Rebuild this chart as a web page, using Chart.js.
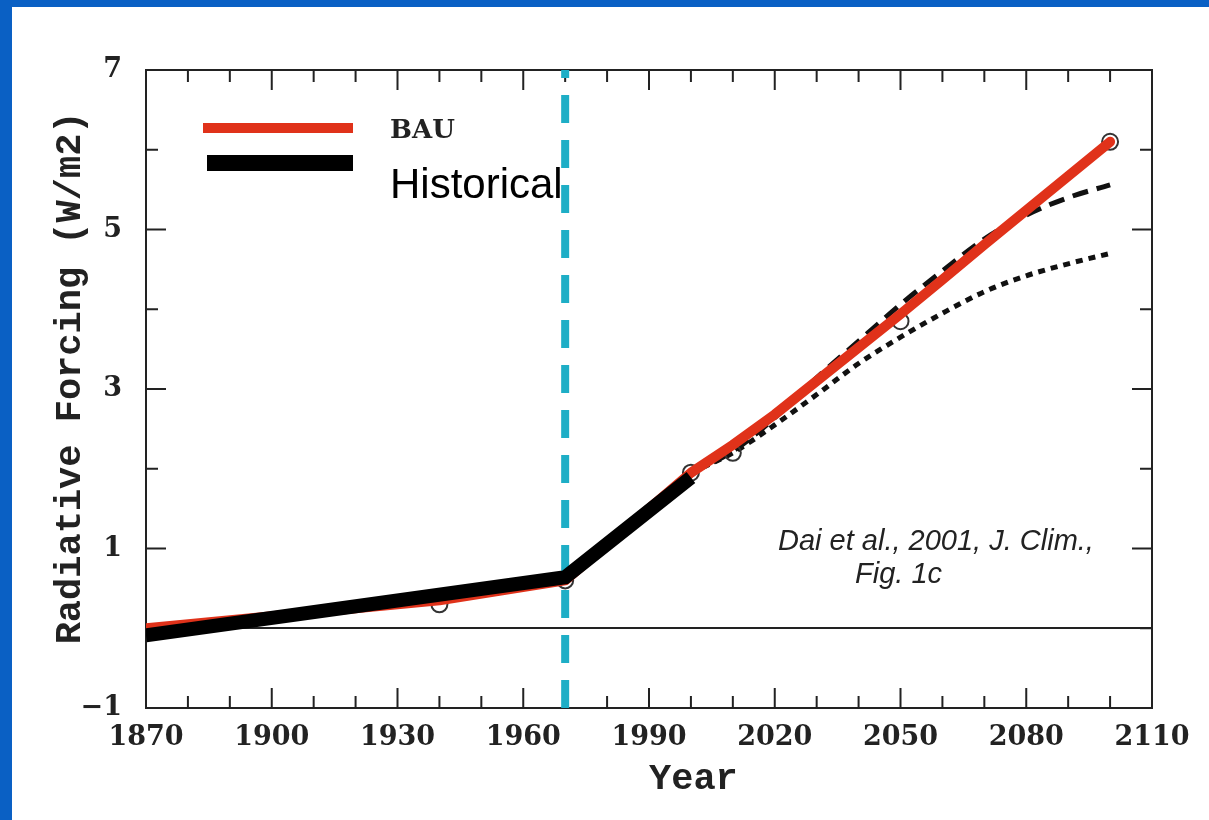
<!DOCTYPE html>
<html>
<head>
<meta charset="utf-8">
<script src="https://cdn.jsdelivr.net/npm/chart.js@4"></script>
<style>
  html, body { margin: 0; padding: 0; background: #0a60c4; }
  body { width: 1209px; height: 820px; position: relative; overflow: hidden; }
  #chart { position: absolute; left: 12px; top: 7px; background: #fff; }
</style>
</head>
<body>
<canvas id="chart" width="1197" height="813"></canvas>
<script>
// BAU scenario (red) and historical forcing (black), W/m2
var bauYears = [1870, 1940, 1970, 2000, 2010, 2020, 2030, 2040, 2050, 2060, 2070, 2080, 2090, 2100];
var bauValues = [0.0, 0.35, 0.6, 1.95, 2.3, 2.68, 3.1, 3.52, 3.94, 4.37, 4.81, 5.24, 5.67, 6.1];
var histYears = [1870, 1970, 2000];
var histValues = [-0.09, 0.64, 1.89];

// the two stabilisation curves of the original figure
var scenYears = [2000, 2010, 2020, 2030, 2040, 2050, 2060, 2070, 2080, 2090, 2100];
var dashedValues = [1.95, 2.22, 2.64, 3.14, 3.6, 4.06, 4.48, 4.88, 5.18, 5.4, 5.56];
var dottedValues = [1.95, 2.2, 2.55, 2.93, 3.32, 3.65, 3.95, 4.22, 4.42, 4.57, 4.7];

// open circles of the original scan
var markerYears = [1940, 1970, 2000, 2010, 2050, 2100];
var markerValues = [0.3, 0.6, 1.95, 2.2, 3.85, 6.1];

var splitYear = 1970;

function pts(xs, ys) {
  return xs.map(function (x, i) { return { x: x, y: ys[i] }; });
}

var frameTicks = {
  id: 'frameTicks',
  beforeDatasetsDraw: function (chart) {
    var ctx = chart.ctx, a = chart.chartArea;
    var xs = chart.scales.x, ys = chart.scales.y;
    ctx.save();
    ctx.strokeStyle = '#222';
    ctx.lineWidth = 2;
    ctx.strokeRect(a.left, a.top, a.right - a.left, a.bottom - a.top);
    ctx.beginPath();
    xs.ticks.forEach(function (t) {
      var px = xs.getPixelForValue(t.value);
      var len = (t.value - 1870) % 30 === 0 ? 20 : 12;
      ctx.moveTo(px, a.bottom); ctx.lineTo(px, a.bottom - len);
      ctx.moveTo(px, a.top); ctx.lineTo(px, a.top + len);
    });
    ys.ticks.forEach(function (t) {
      var py = ys.getPixelForValue(t.value);
      var len = Math.abs(t.value % 2) === 1 ? 20 : 12;
      ctx.moveTo(a.left, py); ctx.lineTo(a.left + len, py);
      ctx.moveTo(a.right, py); ctx.lineTo(a.right - len, py);
    });
    ctx.stroke();
    ctx.restore();
  },
  afterDraw: function (chart) {
    var ctx = chart.ctx;
    ctx.save();
    // legend
    ctx.lineCap = 'butt';
    ctx.strokeStyle = '#e0321a';
    ctx.lineWidth = 10;
    ctx.beginPath(); ctx.moveTo(191, 121); ctx.lineTo(341, 121); ctx.stroke();
    ctx.strokeStyle = '#000';
    ctx.lineWidth = 16;
    ctx.beginPath(); ctx.moveTo(195, 156); ctx.lineTo(341, 156); ctx.stroke();
    ctx.fillStyle = '#222';
    ctx.textBaseline = 'middle';
    ctx.font = 'bold 26px "DejaVu Serif"';
    ctx.fillText('BAU', 378, 124);
    ctx.textBaseline = 'alphabetic';
    ctx.fillStyle = '#000';
    ctx.font = '42px "Liberation Sans"';
    ctx.fillText('Historical', 378, 191);
    // citation
    ctx.fillStyle = '#222';
    ctx.font = 'italic 29px "Liberation Sans"';
    ctx.fillText('Dai et al., 2001, J. Clim.,', 766, 543);
    ctx.fillText('Fig. 1c', 843, 576);
    ctx.restore();
  }
};

var tickFont = { family: 'DejaVu Serif', size: 27, weight: 'bold' };
var titleFont = { family: 'Liberation Mono', size: 37, weight: 'bold' };

new Chart(document.getElementById('chart'), {
  type: 'line',
  data: {
    datasets: [
      {
        label: 'Historical',
        data: pts(histYears, histValues),
        borderColor: '#000',
        borderWidth: 14,
        borderCapStyle: 'butt',
        borderJoinStyle: 'miter',
        pointRadius: 0
      },
      {
        label: '1970',
        data: [{ x: splitYear, y: -1 }, { x: splitYear, y: 7 }],
        borderColor: '#1eaec6',
        borderWidth: 8,
        borderDash: [28, 17],
        borderCapStyle: 'butt',
        pointRadius: 0
      },
      {
        label: 'BAU',
        data: pts(bauYears, bauValues),
        borderColor: '#e0321a',
        borderWidth: 10,
        borderJoinStyle: 'round',
        borderCapStyle: 'round',
        pointRadius: 0
      },
      {
        label: 'markers',
        data: pts(markerYears, markerValues),
        showLine: false,
        pointRadius: 8,
        pointBorderWidth: 2,
        pointBorderColor: '#333',
        pointBackgroundColor: 'rgba(0,0,0,0)'
      },
      {
        label: 'dashed',
        data: pts(scenYears, dashedValues),
        borderColor: '#111',
        borderWidth: 5,
        borderDash: [16, 9],
        cubicInterpolationMode: 'monotone',
        pointRadius: 0
      },
      {
        label: 'dotted',
        data: pts(scenYears, dottedValues),
        borderColor: '#111',
        borderWidth: 5,
        borderDash: [7, 6],
        cubicInterpolationMode: 'monotone',
        pointRadius: 0
      }
    ]
  },
  options: {
    responsive: false,
    animation: false,
    devicePixelRatio: 1,
    layout: { padding: { left: 0, right: 57, top: 63, bottom: 0 } },
    plugins: { legend: { display: false }, tooltip: { enabled: false } },
    scales: {
      x: {
        type: 'linear',
        min: 1870,
        max: 2110,
        afterFit: function (s) { s.height = 112; },
        grid: { display: false, drawTicks: false },
        border: { display: false },
        ticks: {
          stepSize: 10,
          autoSkip: false,
          maxRotation: 0,
          padding: 14,
          color: '#222',
          font: tickFont,
          callback: function (v) { return (v - 1870) % 30 === 0 ? String(v) : ''; }
        },
        title: {
          display: true,
          text: '    Year',
          color: '#222',
          padding: { top: 0, bottom: 18 },
          font: titleFont
        }
      },
      y: {
        min: -1,
        max: 7,
        afterFit: function (s) { s.width = 134; },
        grid: {
          drawTicks: false,
          lineWidth: 2,
          color: function (c) { return c.tick && c.tick.value === 0 ? '#222' : 'rgba(0,0,0,0)'; }
        },
        border: { display: false },
        ticks: {
          stepSize: 1,
          autoSkip: false,
          padding: 24,
          color: '#222',
          font: tickFont,
          callback: function (v) {
            if (Math.abs(v % 2) !== 1) return '';
            return v < 0 ? '\u2212' + Math.abs(v) : String(v);
          }
        },
        title: {
          display: true,
          text: ' Radiative Forcing (W/m2)',
          color: '#222',
          padding: { top: 36, bottom: 0 },
          font: titleFont
        }
      }
    }
  },
  plugins: [frameTicks]
});
</script>
</body>
</html>
